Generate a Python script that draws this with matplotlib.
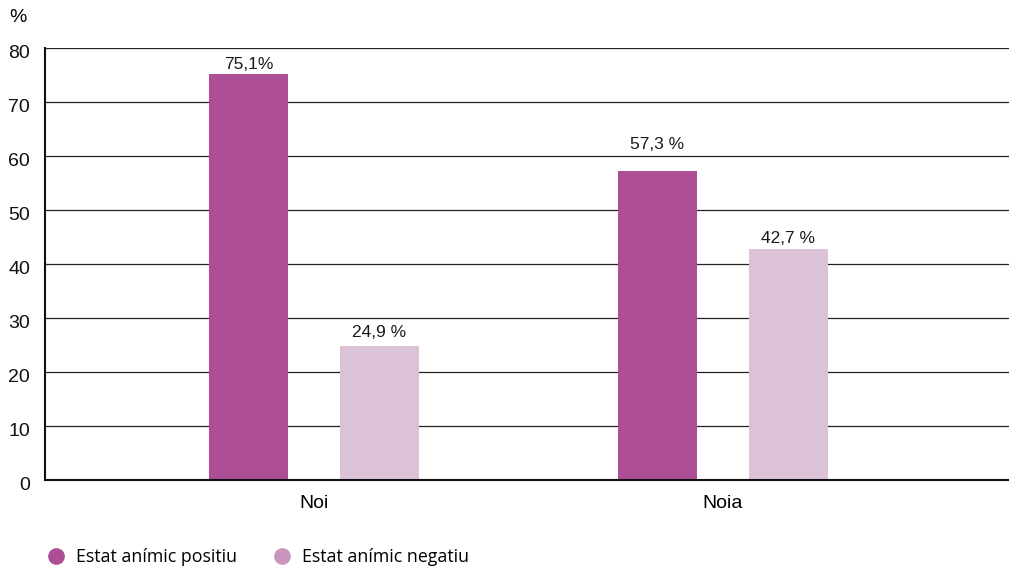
import numpy as np
import matplotlib
matplotlib.use("Agg")
import matplotlib.pyplot as plt
import matplotlib.transforms as transforms
from matplotlib.lines import Line2D

# data
categories = ["Noi", "Noia"]
positiu = [75.1, 57.3]
negatiu = [24.9, 42.7]
labels_positiu = ["75,1%", "57,3 %"]
labels_negatiu = ["24,9 %", "42,7 %"]
series_names = ["Estat anímic positiu", "Estat anímic negatiu"]
yticks = [0, 10, 20, 30, 40, 50, 60, 70, 80]

c_pos = "#AD4E96"
c_neg = "#DBC2D6"
c_neg_legend = "#C995BB"

fig = plt.figure(figsize=(10.09, 5.72), dpi=100)
ax = fig.add_axes([45 / 1009, 1 - 480 / 572, 964 / 1009, 432 / 572])

x = np.arange(len(categories))
w = 0.193
off = 0.16
b1 = ax.bar(x - off, positiu, w, color=c_pos, zorder=3)
b2 = ax.bar(x + off, negatiu, w, color=c_neg, zorder=3)

# value labels (offsets in points, as in the reference)
pos_pad = [2, 13.5]
neg_pad = [4, 2.5]
for rect, lab, p in zip(b1, labels_positiu, pos_pad):
    ax.annotate(lab, (rect.get_x() + rect.get_width() / 2, rect.get_height()),
                xytext=(0, p), textcoords="offset points", ha="center", va="bottom",
                fontsize=12.5, family="Liberation Sans", color="#1a1a1a")
for rect, lab, p in zip(b2, labels_negatiu, neg_pad):
    ax.annotate(lab, (rect.get_x() + rect.get_width() / 2, rect.get_height()),
                xytext=(0, p), textcoords="offset points", ha="center", va="bottom",
                fontsize=12.5, family="Liberation Sans", color="#1a1a1a")

ax.set_xlim(-0.658, 1.70)
ax.set_ylim(0, 80)
ax.set_yticks(yticks)
ax.set_yticklabels([])
ax.tick_params(axis="y", length=0)
# y labels sit a little below their gridlines in the reference
ylab_tr = transforms.offset_copy(ax.get_yaxis_transform(), fig=fig, x=-15, y=-5, units="dots")
for t in yticks:
    ax.text(0, t, str(t), transform=ylab_tr, ha="right", va="center",
            family="Liberation Sans", fontsize=14, color="#111111")

ax.set_xticks(x)
ax.set_xticklabels(categories, family="Liberation Sans", fontsize=14)
ax.tick_params(axis="x", length=0, pad=11)

ax.grid(axis="y", color="#222222", linewidth=0.9, zorder=0)
for s in ["top", "right"]:
    ax.spines[s].set_visible(False)
for s in ["left", "bottom"]:
    ax.spines[s].set_linewidth(1.5)
    ax.spines[s].set_color("#111111")
    ax.spines[s].set_zorder(4)

fig.text(18 / 1009, 1 - 18 / 572, "%", family="Liberation Sans", fontsize=14,
         ha="center", va="center")

handles = [Line2D([], [], marker="o", linestyle="", markersize=11, color=c_pos),
           Line2D([], [], marker="o", linestyle="", markersize=11, color=c_neg_legend)]
fig.legend(handles, series_names, loc="center left", bbox_to_anchor=(22 / 1009, 1 - 557 / 572),
           ncol=2, frameon=False, handletextpad=0.15, columnspacing=1.5,
           prop={"family": "Open Sans", "size": 12.8})

fig.savefig("out.png", dpi=100)
